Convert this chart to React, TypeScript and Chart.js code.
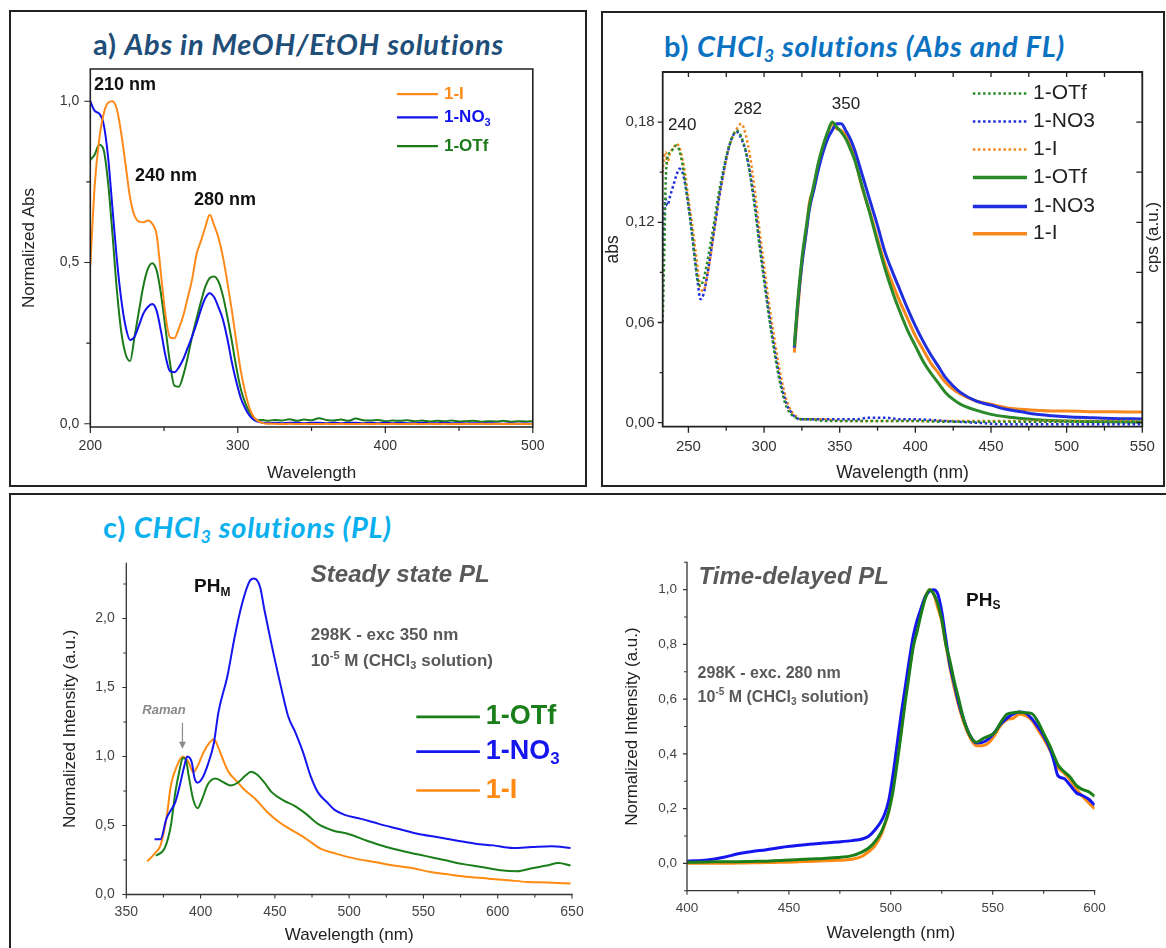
import React, { useEffect, useRef } from "react";
import { Chart, registerables } from "chart.js";
Chart.register(...registerables);

// ================= DATA =================
// ---- Panel a: Abs in MeOH/EtOH (normalized) ----
const aWavelength = [200,203,206,209,212,215,218,221,224,227,230,233,236,239,242,245,248,251,254,257,260,263,266,269,272,275,278,281,284,287,290,293,296,299,302,305,308,311,314,317,320,
  325,330,335,340,345,350,355,360,365,370,375,380,385,390,395,400,405,410,415,420,425,430,435,440,445,450,455,460,465,470,475,480,485,490,495,500];
const aAbsI = [0.49,0.74,0.88,0.96,0.995,1.0,0.975,0.90,0.80,0.70,0.645,0.627,0.625,0.63,0.62,0.585,0.46,0.335,0.268,0.265,0.295,0.335,0.39,0.447,0.525,0.567,0.61,0.648,0.615,0.575,0.515,0.437,0.35,0.255,0.165,0.098,0.048,0.02,0.008,0.002,0.0,
  0,-0.001,0,-0.001,0,-0.001,-0.001,0,-0.001,0,-0.001,-0.001,0,-0.001,0,-0.001,0,-0.001,-0.001,0,-0.001,0,-0.001,0,-0.001,-0.001,0,-0.001,0,-0.001,0,-0.001,-0.001,0,-0.001,0];
const aAbsNO3 = [1.0,0.97,0.962,0.93,0.83,0.67,0.51,0.385,0.30,0.26,0.27,0.305,0.342,0.362,0.371,0.35,0.285,0.21,0.163,0.16,0.175,0.2,0.235,0.27,0.31,0.354,0.39,0.405,0.392,0.36,0.322,0.262,0.19,0.13,0.08,0.048,0.025,0.012,0.006,0.003,0.002,
  0.003,0.002,0.003,0.003,0.002,0.003,0.003,0.002,0.003,0.002,0.003,0.003,0.002,0.003,0.002,0.003,0.002,0.003,0.002,0.002,0.003,0.002,0.002,0.003,0.002,0.002,0.001,0.002,0.001,0.002,0.001,0.0,0.001,0.0,0.001,0.0];
const aAbsOTf = [0.818,0.835,0.865,0.85,0.75,0.59,0.415,0.285,0.215,0.195,0.27,0.35,0.428,0.48,0.498,0.475,0.40,0.295,0.19,0.118,0.115,0.15,0.205,0.27,0.325,0.378,0.425,0.452,0.457,0.44,0.395,0.33,0.255,0.175,0.108,0.065,0.036,0.018,0.011,0.012,0.009,
  0.012,0.010,0.014,0.009,0.013,0.011,0.017,0.012,0.010,0.013,0.009,0.016,0.011,0.010,0.012,0.008,0.010,0.009,0.011,0.008,0.010,0.007,0.009,0.008,0.010,0.007,0.008,0.009,0.006,0.008,0.007,0.009,0.006,0.008,0.007,0.008];
const aXTicks = [200, 300, 400, 500];
const aXMinor = [250, 350, 450];
const aYTicks = [0, 0.5, 1.0];
const aYMinor = [0.25, 0.75];

// ---- Panel b: CHCl3 Abs (dotted) and FL (solid) ----
const bAbsWavelength = [233,234,235,236,238,240,242,244,246,248,250,252,254,256,258,260,262,264,267,270,273,276,279,282,285,288,291,294,297,300,303,306,309,312,315,318,321,325,330,340,350,360,370,380,390,400,420,440,460,480,500,525,550];
const bAbsI = [0.15,0.16,0.162,0.155,0.162,0.164,0.167,0.165,0.158,0.148,0.134,0.122,0.108,0.093,0.08,0.079,0.086,0.096,0.115,0.134,0.148,0.162,0.171,0.176,0.179,0.172,0.158,0.138,0.115,0.094,0.073,0.055,0.038,0.024,0.013,0.007,0.004,0.002,0.002,0.002,0.001,0.001,0.001,0.001,0.001,0.001,0.001,0.001,0.001,0.001,0.001,0.001,0.001];
const bAbsOTf = [0.06,0.1,0.145,0.158,0.162,0.164,0.166,0.163,0.155,0.143,0.13,0.116,0.1,0.086,0.082,0.086,0.094,0.104,0.12,0.137,0.151,0.163,0.171,0.175,0.171,0.162,0.147,0.128,0.106,0.085,0.065,0.047,0.031,0.018,0.009,0.005,0.003,0.002,0.002,0.001,0.001,0.001,0.001,0.001,0.001,0.001,0.0005,0.0005,0.0005,0.0005,0.0005,0.0005,0.0005];
const bAbsNO3 = [0.10,0.125,0.134,0.13,0.136,0.142,0.148,0.152,0.15,0.142,0.13,0.116,0.1,0.085,0.074,0.077,0.086,0.097,0.115,0.133,0.149,0.162,0.171,0.174,0.17,0.162,0.148,0.13,0.108,0.087,0.067,0.049,0.033,0.02,0.011,0.006,0.003,0.002,0.002,0.002,0.002,0.002,0.003,0.003,0.002,0.002,0.001,0,-0.001,-0.001,-0.001,-0.001,-0.001];
const bFlWavelength = [320,322,325,328,330,333,336,339,342,345,348,351,354,357,360,365,370,375,380,385,390,395,400,405,410,415,420,425,430,440,450,460,470,480,490,500,515,530,550];
const bFlI = [0.042,0.065,0.095,0.115,0.132,0.14,0.155,0.165,0.173,0.179,0.176,0.175,0.172,0.166,0.158,0.14,0.126,0.11,0.095,0.083,0.072,0.062,0.052,0.044,0.036,0.03,0.024,0.02,0.017,0.013,0.011,0.009,0.008,0.0075,0.007,0.007,0.0066,0.0065,0.0064];
const bFlNO3 = [0.045,0.068,0.095,0.115,0.128,0.14,0.152,0.162,0.17,0.175,0.179,0.179,0.175,0.17,0.163,0.148,0.133,0.118,0.102,0.09,0.079,0.068,0.058,0.049,0.041,0.034,0.027,0.022,0.018,0.013,0.0105,0.008,0.0065,0.005,0.0042,0.0036,0.003,0.0025,0.0022];
const bFlOTf = [0.046,0.07,0.098,0.118,0.13,0.143,0.156,0.166,0.174,0.18,0.177,0.174,0.17,0.164,0.157,0.141,0.125,0.108,0.092,0.078,0.066,0.055,0.046,0.037,0.03,0.024,0.018,0.014,0.011,0.0075,0.005,0.0035,0.0025,0.0018,0.0013,0.001,0.0007,0.0005,0.0004];
const bXTicks = [250, 300, 350, 400, 450, 500, 550];
const bXMinor = [275, 325, 375, 425, 475, 525];
const bYTicks = [0, 0.06, 0.12, 0.18];
const bYMinor = [0.03, 0.09, 0.15];
const bY2Ticks = [0, 0.03, 0.06, 0.09, 0.12, 0.15, 0.18];

// ---- Panel c (left): steady state PL ----
const cNO3Wavelength = [369,373,377,380,383,386,389,391,394,396,398,401,405,409,412,418,423,428,433,436,440,443,448,454,459,464,469,474,479,485,490,497,508,520,533,546,559,572,585,597,610,623,636,649];
const cNO3 = [0.40,0.40,0.55,0.61,0.67,0.79,0.93,1.0,0.96,0.84,0.81,0.84,0.945,1.1,1.32,1.58,1.87,2.11,2.27,2.29,2.23,2.06,1.80,1.51,1.29,1.17,1.03,0.86,0.74,0.67,0.615,0.577,0.548,0.512,0.476,0.44,0.416,0.392,0.368,0.356,0.337,0.344,0.35,0.337];
const cOTfWavelength = [370,376,380,383,386,388,390,392,395,398,401,405,410,416,420,425,430,434,438,443,448,456,463,471,479,489,499,512,525,538,551,564,577,589,602,613,623,633,641,649];
const cOTf = [0.28,0.34,0.50,0.74,0.91,0.99,0.98,0.86,0.69,0.625,0.69,0.80,0.84,0.81,0.79,0.81,0.86,0.89,0.87,0.81,0.74,0.68,0.644,0.584,0.512,0.464,0.44,0.39,0.344,0.31,0.28,0.25,0.22,0.20,0.175,0.168,0.19,0.21,0.228,0.21];
const cIWavelength = [364,369,373,377,380,384,388,392,395,398,402,406,409,411,415,419,424,429,437,445,453,460,471,481,491,504,517,530,543,555,568,581,594,607,620,633,649];
const cI = [0.24,0.295,0.356,0.55,0.79,0.93,1.0,0.957,0.885,0.93,1.03,1.1,1.125,1.09,0.98,0.885,0.825,0.764,0.69,0.596,0.524,0.476,0.404,0.33,0.296,0.26,0.236,0.21,0.19,0.163,0.144,0.127,0.115,0.103,0.091,0.087,0.08];
const cXTicks = [350, 400, 450, 500, 550, 600, 650];
const cXMinor = [375, 425, 475, 525, 575, 625];
const cYTicks = [0, 0.5, 1.0, 1.5, 2.0];
const cYMinor = [0.25, 0.75, 1.25, 1.75, 2.25];

// ---- Panel c (right): time-delayed PL ----
const dWavelength = [400,410,418,425,432,439,446,453,460,467,474,481,486,489,492,495,497,499,501,503,505,507,509,511,513,515,517,519,521,523,525,527,529,531,533,536,539,542,545,548,551,554,557,560,563,566,569,572,575,578,580,582,585,588,591,594,597,600];
const dNO3 = [0.008,0.012,0.022,0.035,0.043,0.05,0.058,0.064,0.07,0.074,0.078,0.083,0.089,0.098,0.12,0.15,0.18,0.23,0.32,0.43,0.54,0.64,0.74,0.83,0.89,0.935,0.975,0.995,1.0,0.985,0.92,0.82,0.725,0.66,0.595,0.52,0.465,0.44,0.442,0.455,0.48,0.51,0.53,0.545,0.553,0.55,0.53,0.50,0.465,0.42,0.375,0.32,0.31,0.285,0.258,0.248,0.235,0.213];
const dI = [0,0,0,0.001,0.002,0.003,0.004,0.005,0.007,0.009,0.011,0.015,0.026,0.042,0.062,0.10,0.14,0.19,0.28,0.375,0.48,0.60,0.70,0.80,0.87,0.93,0.975,1.0,0.985,0.935,0.885,0.80,0.715,0.645,0.585,0.51,0.458,0.43,0.43,0.44,0.468,0.505,0.525,0.53,0.545,0.54,0.525,0.49,0.455,0.415,0.385,0.35,0.33,0.305,0.272,0.245,0.222,0.20];
const dOTf = [0.004,0.005,0.006,0.006,0.007,0.008,0.01,0.013,0.016,0.018,0.021,0.028,0.042,0.055,0.077,0.11,0.145,0.19,0.26,0.36,0.47,0.585,0.69,0.79,0.85,0.915,0.97,1.0,0.985,0.95,0.89,0.80,0.74,0.67,0.61,0.52,0.465,0.442,0.455,0.465,0.478,0.515,0.545,0.55,0.553,0.55,0.548,0.52,0.475,0.43,0.395,0.36,0.335,0.315,0.285,0.27,0.262,0.245];
const dXTicks = [400, 450, 500, 550, 600];
const dXMinor = [425, 475, 525, 575];
const dYTicks = [0, 0.2, 0.4, 0.6, 0.8, 1.0];
const dYMinor = [-0.1, 0.1, 0.3, 0.5, 0.7, 0.9, 1.1];

// ================= STYLE =================
const ARIAL = "'Liberation Sans', Arial, sans-serif";
const COL = {
  aOrange: "#FF8A1C", aBlue: "#1212EE", aGreen: "#1C7A1C",
  bOrange: "#F5891F", bBlue: "#1F2FDD", bGreen: "#2A8A2A",
  cOrange: "#FF8A12", cBlue: "#1515F0", cGreen: "#1A7F1A",
};

type Seg = { t: string; k?: "sub" | "sup" };
const S = (t: string, k?: "sub" | "sup"): Seg => ({ t, k });

function drawRich(ctx: any, segs: Seg[], x: number, y: number, size: number, style: string, color: string, align: string) {
  ctx.fillStyle = color;
  ctx.textBaseline = "middle";
  ctx.textAlign = "left";
  const fonts = segs.map((s) => `${style} ${s.k ? Math.round(size * 0.62) : size}px ${ARIAL}`.trim());
  const widths = segs.map((s, i) => { ctx.font = fonts[i]; return ctx.measureText(s.t).width; });
  const total = widths.reduce((a, b) => a + b, 0);
  let cx = align === "center" ? x - total / 2 : align === "right" ? x - total : x;
  segs.forEach((s, i) => {
    ctx.font = fonts[i];
    const dy = s.k === "sub" ? size * 0.3 : s.k === "sup" ? -size * 0.32 : 0;
    ctx.fillText(s.t, cx, y + dy);
    cx += widths[i];
  });
}

type Decor = {
  frame: string[]; frameWidth: number; frameColor: string; tickWidth: number;
  ticks: { scale: string; side: string; values: number[]; len: number; inward?: boolean }[];
  texts: { segs: Seg[]; x: number; y: number; size: number; style: string; color: string; align?: string }[];
  legend: { segs: Seg[]; color: string; textColor: string; dash: number[]; lw: number; x1: number; x2: number; xt: number; y: number; size: number; style: string }[];
  arrows?: { x: number; y1: number; y2: number; color: string }[];
  sideTitles?: { text: string; offset: number; yValue: number; size: number; color: string }[];
};

function decorPlugin(spec: Decor) {
  return {
    id: "decor",
    afterDatasetsDraw(chart: any) {
      const { ctx, chartArea: ca, scales } = chart;
      const xs = scales.x, ys = scales.y;
      ctx.save();
      // frame
      ctx.strokeStyle = spec.frameColor;
      ctx.lineWidth = spec.frameWidth;
      ctx.lineCap = "square";
      ctx.beginPath();
      for (const side of spec.frame) {
        if (side === "bottom") { ctx.moveTo(ca.left, ca.bottom); ctx.lineTo(ca.right, ca.bottom); }
        if (side === "top") { ctx.moveTo(ca.left, ca.top); ctx.lineTo(ca.right, ca.top); }
        if (side === "left") { ctx.moveTo(ca.left, ca.top); ctx.lineTo(ca.left, ca.bottom); }
        if (side === "right") { ctx.moveTo(ca.right, ca.top); ctx.lineTo(ca.right, ca.bottom); }
      }
      ctx.stroke();
      // ticks
      ctx.lineWidth = spec.tickWidth;
      ctx.lineCap = "butt";
      ctx.beginPath();
      for (const t of spec.ticks) {
        const sc = scales[t.scale];
        const d = t.inward ? -1 : 1;
        for (const v of t.values) {
          const p = sc.getPixelForValue(v);
          if (t.side === "bottom") { ctx.moveTo(p, ca.bottom); ctx.lineTo(p, ca.bottom + d * t.len); }
          else if (t.side === "top") { ctx.moveTo(p, ca.top); ctx.lineTo(p, ca.top - d * t.len); }
          else if (t.side === "left") { ctx.moveTo(ca.left, p); ctx.lineTo(ca.left - d * t.len, p); }
          else { ctx.moveTo(ca.right, p); ctx.lineTo(ca.right + d * t.len, p); }
        }
      }
      ctx.stroke();
      // legend
      for (const l of spec.legend) {
        const py = ys.getPixelForValue(l.y);
        ctx.strokeStyle = l.color;
        ctx.lineWidth = l.lw;
        ctx.setLineDash(l.dash);
        ctx.beginPath();
        ctx.moveTo(xs.getPixelForValue(l.x1), py);
        ctx.lineTo(xs.getPixelForValue(l.x2), py);
        ctx.stroke();
        ctx.setLineDash([]);
        drawRich(ctx, l.segs, xs.getPixelForValue(l.xt), py, l.size, l.style, l.textColor, "left");
      }
      // arrows
      for (const a of spec.arrows || []) {
        const px = xs.getPixelForValue(a.x), p1 = ys.getPixelForValue(a.y1), p2 = ys.getPixelForValue(a.y2);
        ctx.strokeStyle = a.color; ctx.fillStyle = a.color; ctx.lineWidth = 1.2;
        ctx.beginPath(); ctx.moveTo(px, p1); ctx.lineTo(px, p2 - 5); ctx.stroke();
        ctx.beginPath(); ctx.moveTo(px - 3.5, p2 - 7); ctx.lineTo(px + 3.5, p2 - 7); ctx.lineTo(px, p2); ctx.closePath(); ctx.fill();
      }
      // texts
      for (const t of spec.texts) {
        drawRich(ctx, t.segs, xs.getPixelForValue(t.x), ys.getPixelForValue(t.y), t.size, t.style, t.color, t.align || "left");
      }
      // rotated right-side titles (reading bottom to top)
      for (const s of spec.sideTitles || []) {
        ctx.save();
        ctx.translate(ca.right + s.offset, ys.getPixelForValue(s.yValue));
        ctx.rotate(-Math.PI / 2);
        ctx.font = `${s.size}px ${ARIAL}`;
        ctx.fillStyle = s.color;
        ctx.textAlign = "center";
        ctx.textBaseline = "middle";
        ctx.fillText(s.text, 0, 0);
        ctx.restore();
      }
      ctx.restore();
    },
  };
}

const comma = (d: number) => (v: number) => Number(v).toFixed(d).replace(".", ",");

function axis(o: { pos: string; min: number; max: number; ticks: number[]; size: number; fmt?: (v: number) => string;
  font?: number; pad?: number; color?: string; labels?: boolean; title?: string; titleSize?: number; titlePad?: any }) {
  const horizontal = o.pos === "bottom" || o.pos === "top";
  return {
    type: "linear", position: o.pos, min: o.min, max: o.max,
    grid: { display: false, drawTicks: false },
    border: { display: false },
    afterBuildTicks: (s: any) => { s.ticks = o.ticks.map((v) => ({ value: v })); },
    afterFit: (s: any) => {
      if (horizontal) s.height = o.size; else s.width = o.size;
      s.paddingTop = 0; s.paddingBottom = 0; s.paddingLeft = 0; s.paddingRight = 0;
    },
    ticks: {
      display: o.labels !== false, padding: o.pad ?? 8, autoSkip: false, maxRotation: 0, minRotation: 0,
      color: o.color || "#333", font: { family: ARIAL, size: o.font || 14 },
      callback: (v: any) => (o.fmt ? o.fmt(v) : String(v)),
    },
    title: o.title
      ? { display: true, text: o.title, color: "#222", font: { family: ARIAL, size: o.titleSize || 17 }, padding: o.titlePad ?? 0 }
      : { display: false },
  };
}

function ds(label: string, xs: number[], ys: number[], color: string, width: number, dash: number[] = [], yAxisID = "y") {
  return {
    label, data: xs.map((x, i) => ({ x, y: ys[i] })), borderColor: color, backgroundColor: color,
    borderWidth: width, borderDash: dash, pointRadius: 0, fill: false, cubicInterpolationMode: "monotone", yAxisID,
  };
}

function baseOptions(padding: any, scales: any) {
  return {
    animation: false, responsive: false, devicePixelRatio: 1, events: [],
    layout: { padding },
    plugins: { legend: { display: false }, tooltip: { enabled: false } },
    scales,
  };
}

// ================= CHART CONFIGS =================
function configA() {
  const spec: Decor = {
    frame: ["bottom", "left", "top", "right"], frameWidth: 1.6, frameColor: "#222", tickWidth: 1.2,
    ticks: [
      { scale: "x", side: "bottom", values: aXTicks, len: 6 },
      { scale: "x", side: "bottom", values: aXMinor, len: 4 },
      { scale: "y", side: "left", values: aYTicks, len: 6 },
      { scale: "y", side: "left", values: aYMinor, len: 4 },
    ],
    texts: [
      { segs: [S("210 nm")], x: 202.5, y: 1.05, size: 18, style: "bold", color: "#111" },
      { segs: [S("240 nm")], x: 230.3, y: 0.768, size: 18, style: "bold", color: "#111" },
      { segs: [S("280 nm")], x: 270.3, y: 0.693, size: 18, style: "bold", color: "#111" },
    ],
    legend: [
      { segs: [S("1-I")], color: COL.aOrange, textColor: COL.aOrange, dash: [], lw: 2.2, x1: 407.9, x2: 435.7, xt: 439.8, y: 1.022, size: 17, style: "bold" },
      { segs: [S("1-NO"), S("3", "sub")], color: COL.aBlue, textColor: COL.aBlue, dash: [], lw: 2.2, x1: 407.9, x2: 435.7, xt: 439.8, y: 0.95, size: 17, style: "bold" },
      { segs: [S("1-OTf")], color: COL.aGreen, textColor: COL.aGreen, dash: [], lw: 2.2, x1: 407.9, x2: 435.7, xt: 439.8, y: 0.861, size: 17, style: "bold" },
    ],
  };
  return {
    type: "line",
    data: {
      datasets: [
        ds("1-I", aWavelength, aAbsI, COL.aOrange, 2),
        ds("1-NO3", aWavelength, aAbsNO3, COL.aBlue, 2),
        ds("1-OTf", aWavelength, aAbsOTf, COL.aGreen, 2),
      ],
    },
    options: baseOptions({ left: 0, top: 11, right: 52.2, bottom: 0 }, {
      x: axis({ pos: "bottom", min: 200, max: 500, ticks: aXTicks, size: 58, pad: 10.6, font: 14, title: "Wavelength", titleSize: 17, titlePad: { top: 0, bottom: 1.8 } }),
      y: axis({ pos: "left", min: -0.01, max: 1.1, ticks: aYTicks, size: 79.3, pad: 11, font: 14, fmt: comma(1), title: "Normalized Abs", titleSize: 17, titlePad: { top: 7.8, bottom: 0 } }),
    }),
    plugins: [decorPlugin(spec)],
  };
}

function configB() {
  const leg = (segs: Seg[], color: string, dotted: boolean, y: number) => ({
    segs, color, textColor: "#222", dash: dotted ? [2.5, 2.6] : [], lw: dotted ? 2.5 : 3.5,
    x1: 438, x2: 473.8, xt: 477.8, y, size: 21, style: "",
  });
  const spec: Decor = {
    frame: ["bottom", "left", "top", "right"], frameWidth: 1.8, frameColor: "#222", tickWidth: 1.3,
    ticks: [
      { scale: "x", side: "bottom", values: bXTicks, len: 6 },
      { scale: "x", side: "bottom", values: bXMinor, len: 4 },
      { scale: "x", side: "top", values: bXTicks, len: 5, inward: true },
      { scale: "x", side: "top", values: bXMinor, len: 5, inward: true },
      { scale: "y", side: "left", values: bYTicks, len: 5 },
      { scale: "y", side: "left", values: bYMinor, len: 3 },
      { scale: "y2", side: "right", values: bY2Ticks, len: 6, inward: true },
    ],
    texts: [
      { segs: [S("240")], x: 245.9, y: 0.178, size: 17, style: "", color: "#222", align: "center" },
      { segs: [S("282")], x: 289.3, y: 0.1876, size: 17, style: "", color: "#222", align: "center" },
      { segs: [S("350")], x: 354.1, y: 0.1906, size: 17, style: "", color: "#222", align: "center" },
    ],
    legend: [
      leg([S("1-OTf")], COL.bGreen, true, 0.1972),
      leg([S("1-NO3")], COL.bBlue, true, 0.1804),
      leg([S("1-I")], COL.bOrange, true, 0.1636),
      leg([S("1-OTf")], COL.bGreen, false, 0.1468),
      leg([S("1-NO3")], COL.bBlue, false, 0.1294),
      leg([S("1-I")], COL.bOrange, false, 0.1132),
    ],
    sideTitles: [{ text: "cps (a.u.)", offset: 11, yValue: 0.111, size: 17, color: "#222" }],
  };
  return {
    type: "line",
    data: {
      datasets: [
        ds("1-OTf abs", bAbsWavelength, bAbsOTf, COL.bGreen, 2.5, [2.5, 2.6]),
        ds("1-NO3 abs", bAbsWavelength, bAbsNO3, COL.bBlue, 2.5, [2.5, 2.6]),
        ds("1-I abs", bAbsWavelength, bAbsI, COL.bOrange, 2.5, [2.5, 2.6]),
        ds("1-OTf FL", bFlWavelength, bFlOTf, COL.bGreen, 3, [], "y2"),
        ds("1-NO3 FL", bFlWavelength, bFlNO3, COL.bBlue, 3, [], "y2"),
        ds("1-I FL", bFlWavelength, bFlI, COL.bOrange, 3, [], "y2"),
      ],
    },
    options: baseOptions({ left: 0, top: 14, right: 0, bottom: 0 }, {
      x: axis({ pos: "bottom", min: 233, max: 550, ticks: bXTicks, size: 58.3, pad: 11, font: 15, title: "Wavelength (nm)", titleSize: 17.5, titlePad: { top: 0, bottom: 1.5 } }),
      y: axis({ pos: "left", min: -0.0024, max: 0.21, ticks: bYTicks, size: 59.7, pad: 8, font: 15, fmt: comma(2), title: "abs", titleSize: 17.5, titlePad: 0 }),
      y2: axis({ pos: "right", min: -0.0024, max: 0.21, ticks: bY2Ticks, size: 21.7, labels: false }),
    }),
    plugins: [decorPlugin(spec)],
  };
}

const GRAY = "#595959";
function configC1() {
  const leg = (segs: Seg[], color: string, y: number) => ({
    segs, color, textColor: color, dash: [], lw: 2.6, x1: 545.2, x2: 588, xt: 592, y, size: 27, style: "bold",
  });
  const spec: Decor = {
    frame: ["bottom", "left"], frameWidth: 1.3, frameColor: "#333", tickWidth: 1.1,
    ticks: [
      { scale: "x", side: "bottom", values: cXTicks, len: 4 },
      { scale: "x", side: "bottom", values: cXMinor, len: 3 },
      { scale: "y", side: "left", values: cYTicks, len: 4 },
      { scale: "y", side: "left", values: cYMinor, len: 3 },
    ],
    texts: [
      { segs: [S("PH"), S("M", "sub")], x: 395.6, y: 2.23, size: 19, style: "bold", color: "#111" },
      { segs: [S("Steady state PL")], x: 474.2, y: 2.31, size: 24, style: "italic bold", color: GRAY },
      { segs: [S("298K - exc 350 nm")], x: 474.2, y: 1.878, size: 17, style: "bold", color: GRAY },
      { segs: [S("10"), S("-5", "sup"), S(" M (CHCl"), S("3", "sub"), S(" solution)")], x: 474.2, y: 1.69, size: 17, style: "bold", color: GRAY },
      { segs: [S("Raman")], x: 375.4, y: 1.337, size: 13, style: "italic bold", color: "#8a8a8a", align: "center" },
    ],
    arrows: [{ x: 387.8, y1: 1.244, y2: 1.056, color: "#8a8a8a" }],
    legend: [
      leg([S("1-OTf")], COL.cGreen, 1.287),
      leg([S("1-NO"), S("3", "sub")], COL.cBlue, 1.035),
      leg([S("1-I")], COL.cOrange, 0.754),
    ],
  };
  return {
    type: "line",
    data: {
      datasets: [
        ds("1-NO3", cNO3Wavelength, cNO3, COL.cBlue, 2),
        ds("1-OTf", cOTfWavelength, cOTf, COL.cGreen, 2),
        ds("1-I", cIWavelength, cI, COL.cOrange, 2),
      ],
    },
    options: baseOptions({ left: 0, top: 15.3, right: 28, bottom: 0 }, {
      x: axis({ pos: "bottom", min: 350, max: 650, ticks: cXTicks, size: 53.5, pad: 9, font: 14, color: "#444", title: "Wavelength (nm)", titleSize: 17, titlePad: { top: 0, bottom: 2.8 } }),
      y: axis({ pos: "left", min: 0, max: 2.4, ticks: cYTicks, size: 76.3, pad: 11.5, font: 14, color: "#444", fmt: comma(1), title: "Normalized Intensity (a.u.)", titleSize: 17, titlePad: { top: 10.6, bottom: 0 } }),
    }),
    plugins: [decorPlugin(spec)],
  };
}

function configC2() {
  const spec: Decor = {
    frame: ["bottom", "left"], frameWidth: 1.3, frameColor: "#333", tickWidth: 1.1,
    ticks: [
      { scale: "x", side: "bottom", values: dXTicks, len: 4 },
      { scale: "x", side: "bottom", values: dXMinor, len: 3 },
      { scale: "y", side: "left", values: dYTicks, len: 4 },
      { scale: "y", side: "left", values: dYMinor, len: 3 },
    ],
    texts: [
      { segs: [S("Time-delayed PL")], x: 405.7, y: 1.045, size: 24, style: "italic bold", color: GRAY },
      { segs: [S("PH"), S("S", "sub")], x: 536.9, y: 0.961, size: 19, style: "bold", color: "#111" },
      { segs: [S("298K - exc. 280 nm")], x: 405.2, y: 0.695, size: 16, style: "bold", color: GRAY },
      { segs: [S("10"), S("-5", "sup"), S(" M (CHCl"), S("3", "sub"), S(" solution)")], x: 405.2, y: 0.607, size: 16, style: "bold", color: GRAY },
    ],
    legend: [],
  };
  return {
    type: "line",
    data: {
      datasets: [
        ds("1-OTf", dWavelength, dOTf, COL.cGreen, 3),
        ds("1-NO3", dWavelength, dNO3, COL.cBlue, 3),
        ds("1-I", dWavelength, dI, COL.cOrange, 3),
      ],
    },
    options: baseOptions({ left: 0, top: 14.3, right: 71.4, bottom: 0 }, {
      x: axis({ pos: "bottom", min: 400, max: 600, ticks: dXTicks, size: 57.3, pad: 9.5, font: 13.5, color: "#444", title: "Wavelength (nm)", titleSize: 17, titlePad: { top: 0, bottom: 4.8 } }),
      y: axis({ pos: "left", min: -0.1, max: 1.1, ticks: dYTicks, size: 77, pad: 10, font: 13.5, color: "#444", fmt: comma(1), title: "Normalized Intensity (a.u.)", titleSize: 17, titlePad: { top: 12.3, bottom: 0 } }),
    }),
    plugins: [decorPlugin(spec)],
  };
}

// ================= COMPONENTS =================
function ChartCanvas(props: { left: number; top: number; width: number; height: number; make: () => any }) {
  const ref = useRef<HTMLCanvasElement | null>(null);
  useEffect(() => {
    const chart = new Chart(ref.current as HTMLCanvasElement, props.make());
    return () => chart.destroy();
  }, []);
  return (
    <canvas ref={ref} width={props.width} height={props.height}
      style={{ position: "absolute", left: props.left, top: props.top, width: props.width, height: props.height }} />
  );
}

const TITLE_FONT = "Lato, 'Open Sans', 'Noto Sans', sans-serif";
function Title(props: { left: number; top: number; size: number; color: string; lead: string; children: any }) {
  return (
    <div style={{ position: "absolute", left: props.left, top: props.top, fontFamily: TITLE_FONT, fontWeight: 700,
      fontSize: props.size, color: props.color, whiteSpace: "nowrap", lineHeight: 1, letterSpacing: "0.75px" }}>
      <span>{props.lead} </span>
      <span style={{ fontStyle: "italic" }}>{props.children}</span>
    </div>
  );
}
const sub3 = <span style={{ fontSize: "0.62em", verticalAlign: "-0.3em" }}>3</span>;

export default function App() {
  return (
    <div style={{ position: "absolute", left: 0, top: 0, width: 1166, height: 948, background: "#fff", overflow: "hidden" }}>
      <div style={{ position: "absolute", left: 9, top: 10, width: 578, height: 477, border: "2px solid #222", boxSizing: "border-box" }} />
      <div style={{ position: "absolute", left: 601, top: 11, width: 564, height: 476, border: "2px solid #222", boxSizing: "border-box" }} />
      <div style={{ position: "absolute", left: 9, top: 493, width: 1165, height: 470, border: "2px solid #222", boxSizing: "border-box" }} />

      <Title left={93} top={29} size={29} color="#1F4E79" lead="a)">Abs in MeOH/EtOH solutions</Title>
      <Title left={664} top={31} size={29} color="#0B72C2" lead="b)">CHCl{sub3} solutions (Abs and FL)</Title>
      <Title left={103} top={512} size={29} color="#0AB0EE" lead="c)">CHCl{sub3} solutions (PL)</Title>

      <ChartCanvas left={11} top={58} width={574} height={427} make={configA} />
      <ChartCanvas left={603} top={58} width={561} height={427} make={configB} />
      <ChartCanvas left={50} top={548} width={550} height={400} make={configC1} />
      <ChartCanvas left={610} top={548} width={556} height={400} make={configC2} />
    </div>
  );
}
